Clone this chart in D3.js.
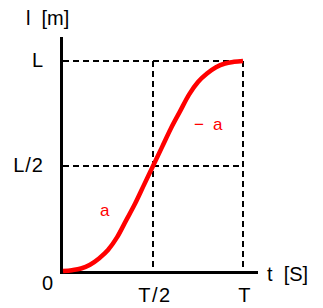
<!DOCTYPE html>
<html>
<head>
<meta charset="utf-8">
<script src="https://cdn.jsdelivr.net/npm/d3@7"></script>
<style>
  html, body { margin: 0; padding: 0; background: #fff; }
  svg { display: block; }
  text { font-family: "Liberation Sans", Arial, sans-serif; white-space: pre; }
</style>
</head>
<body>
<div id="chart"></div>
<script>
// ---- data (normalized: t in units of T, l in units of L) ----
const tValues = [0, 0.05, 0.1, 0.15, 0.2, 0.25, 0.3, 0.35, 0.4, 0.45, 0.5,
                 0.55, 0.6, 0.65, 0.7, 0.75, 0.8, 0.85, 0.9, 0.95, 1];
const lValues = [0, 0.004, 0.012, 0.03, 0.06, 0.10, 0.16, 0.24, 0.32, 0.41, 0.50,
                 0.59, 0.68, 0.76, 0.84, 0.90, 0.94, 0.97, 0.988, 0.996, 1.0];
const xTickValues = [0.5, 1];
const xTickLabels = ["T/2", "T"];
const yTickValues = [0.5, 1];
const yTickLabels = ["L/2", "L"];
const originLabel = "0";
const xAxisTitle = "t  [S]";
const yAxisTitle = "l  [m]";
const segmentLabels = [{t: 0.24, l: 0.26, text: "a"}, {t: 0.84, l: 0.67, text: "a", minus: true}];

// ---- layout ----
const W = 323, H = 308;
const svg = d3.select("#chart").append("svg").attr("width", W).attr("height", H);

const x = d3.scaleLinear().domain([0, 1]).range([63, 243]);
const y = d3.scaleLinear().domain([0, 1]).range([271, 61]);

const axisX = 61, axisY = 272.5;

// dashed guide lines
const dash = "6,4";
yTickValues.forEach(v => {
  svg.append("line")
    .attr("x1", axisX + 2).attr("x2", x(1))
    .attr("y1", Math.round(y(v))).attr("y2", Math.round(y(v)))
    .attr("stroke", "#000").attr("stroke-width", 2)
    .attr("stroke-dasharray", dash).attr("shape-rendering", "crispEdges");
});
xTickValues.forEach(v => {
  svg.append("line")
    .attr("x1", Math.round(x(v))).attr("x2", Math.round(x(v)))
    .attr("y1", y(1)).attr("y2", axisY - 1)
    .attr("stroke", "#000").attr("stroke-width", 2)
    .attr("stroke-dasharray", dash).attr("shape-rendering", "crispEdges");
});

// axes
svg.append("line")
  .attr("x1", axisX).attr("x2", axisX).attr("y1", 37).attr("y2", axisY + 1.5)
  .attr("stroke", "#000").attr("stroke-width", 3).attr("shape-rendering", "crispEdges");
svg.append("line")
  .attr("x1", axisX - 1.5).attr("x2", 258).attr("y1", axisY).attr("y2", axisY)
  .attr("stroke", "#000").attr("stroke-width", 3).attr("shape-rendering", "crispEdges");

// curve
const pts = tValues.map((t, i) => [t, lValues[i]]);
svg.append("path")
  .datum(pts)
  .attr("fill", "none")
  .attr("stroke", "#ff0000")
  .attr("stroke-width", 4.5)
  .attr("stroke-linecap", "butt")
  .attr("d", d3.line().x(d => x(d[0])).y(d => y(d[1])).curve(d3.curveMonotoneX));

// tick labels
const fs = 20;
yTickValues.forEach((v, i) => {
  svg.append("text").attr("x", 44).attr("y", y(v) + 6)
    .attr("text-anchor", "end").attr("font-size", fs)
    .attr("letter-spacing", 1)
    .text(yTickLabels[i]);
});
xTickValues.forEach((v, i) => {
  svg.append("text").attr("x", x(v) + 2).attr("y", 302)
    .attr("text-anchor", "middle").attr("font-size", fs)
    .attr("letter-spacing", 1.5)
    .text(xTickLabels[i]);
});
svg.append("text").attr("x", 47.5).attr("y", 290)
  .attr("text-anchor", "middle").attr("font-size", fs).text(originLabel);

// axis titles
svg.append("text").attr("x", 267).attr("y", 281).attr("font-size", fs).text(xAxisTitle);
svg.append("text").attr("x", 26).attr("y", 25).attr("font-size", fs).text(yAxisTitle);

// acceleration labels
svg.append("text").attr("x", 100).attr("y", 216).attr("font-size", 17)
  .attr("fill", "#ff0000").text("a");
svg.append("text").attr("x", 194).attr("y", 129.5).attr("font-size", 17)
  .attr("fill", "#ff0000").text("\u2212");
svg.append("text").attr("x", 213).attr("y", 129.5).attr("font-size", 17)
  .attr("fill", "#ff0000").text("a");
</script>
</body>
</html>
